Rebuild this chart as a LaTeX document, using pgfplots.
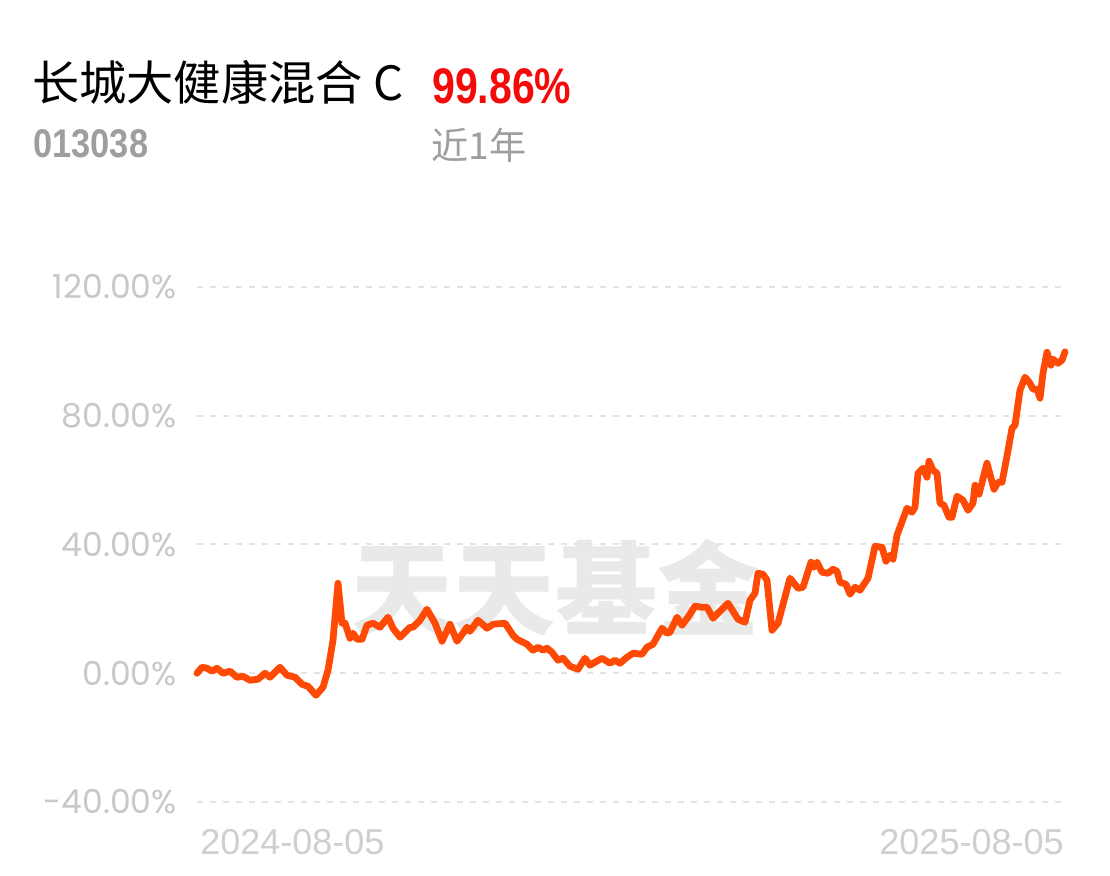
\documentclass[border=0pt]{standalone}
\usepackage{fontspec}
\usepackage{pgfplots}
\pgfplotsset{compat=1.18}
\setmainfont{Poppins}
\newfontfamily\cjk{Noto Sans CJK SC}
\newfontfamily\numfont{Liberation Sans}[FakeStretch=0.82]
\newfontfamily\codefont{Liberation Sans}[FakeStretch=0.86]
\newfontfamily\datefont{Liberation Sans}

\definecolor{lineor}{HTML}{FF4A05}
\definecolor{tickgray}{HTML}{C8C8C8}
\definecolor{dategray}{HTML}{CFCFCF}
\definecolor{gridgray}{HTML}{E3E3E3}
\definecolor{wm}{HTML}{E9E9E9}
\definecolor{codegray}{HTML}{9E9E9E}
\definecolor{redval}{HTML}{F50A0A}

\begin{document}
\begin{tikzpicture}
\begin{scope}[x=0.5pt,y=-0.5pt]
\fill[white] (0,0) rectangle (1110,876);
\node[anchor=base west, inner sep=0, font=\cjk\fontsize{23.6}{23.6}\selectfont] at (32,101) {长城大健康混合 C};
\node[anchor=base west, inner sep=0, text=redval, font=\numfont\bfseries\fontsize{25}{25}\selectfont] at (432,104) {99.86\%};
\node[anchor=base west, inner sep=0, text=codegray, font=\codefont\bfseries\fontsize{20}{20}\selectfont] at (33,158) {013038};
\node[anchor=base west, inner sep=0, text=codegray, font=\cjk\fontsize{18.6}{18.6}\selectfont] at (431,160) {近1年};
\node[anchor=base west, inner sep=0, text=dategray, font=\datefont\fontsize{18}{18}\selectfont] at (200,855) {2024-08-05};
\node[anchor=base east, inner sep=0, text=dategray, font=\datefont\fontsize{18}{18}\selectfont] at (1064,855) {2025-08-05};
\node[inner sep=0, text=wm, font=\cjk\bfseries\fontsize{51}{51}\selectfont] at (555,588) {天天基金};
\end{scope}
\begin{axis}[
    at={(98.5pt,-401pt)}, anchor=south west,
    scale only axis,
    width=434pt, height=257.5pt,
    xmin=197, xmax=1065,
    ymin=-40, ymax=120,
    axis line style={draw=none},
    xtick=\empty,
    ytick={-40,0,40,80,120},
    yticklabels={-40.00\%,0.00\%,40.00\%,80.00\%,120.00\%},
    yticklabel style={anchor=east, inner sep=0pt, xshift=-10pt, text=tickgray, font=\fontsize{16.5}{16.5}\selectfont},
    major tick length=0pt,
    ymajorgrids,
    grid style={gridgray, line width=1pt, dash pattern=on 3pt off 3.5pt},
    clip=false,
]
\addplot[lineor, line width=3.4pt, line join=round, line cap=round] table {
x y
197 0
202 1.86
207 1.55
212 0.62
217 1.55
223 0
230 0.62
237 -1.24
243 -0.93
250 -2.17
258 -1.86
265 0
270 -1.24
280 1.86
287 -0.62
295 -1.24
302 -3.42
308 -4.04
316 -6.84
323 -4.35
328 0.93
333 10.25
338 27.96
342 15.54
345 15.54
350 10.87
353 12.43
357 10.56
362 10.56
367 14.91
373 15.54
380 14.29
388 17.40
393 13.98
400 11.19
410 14.29
413 14.29
420 16.47
427 19.88
435 15.54
442 9.94
450 15.22
457 9.94
460 11.19
467 14.29
470 13.05
478 16.47
487 13.98
493 15.22
505 15.54
513 11.81
517 10.56
527 9.01
533 7.15
538 8.08
543 7.15
547 7.77
552 6.52
558 4.04
563 4.66
570 2.17
578 1.24
585 4.66
590 2.49
595 3.42
602 4.66
610 3.11
615 4.04
620 3.11
627 4.97
633 6.21
642 5.90
647 8.08
653 9.01
662 13.98
667 12.43
670 12.74
677 17.40
682 14.91
688 17.40
695 20.82
702 20.51
707 20.51
713 17.09
728 21.75
738 16.78
745 15.85
750 22.68
755 24.86
758 31.07
763 30.76
767 28.90
772 13.36
778 15.54
790 29.52
798 26.41
803 26.72
811 34.49
814 32.93
817 34.49
822 31.38
828 31.07
833 32.31
837 31.69
840 28.27
846 27.65
850 24.55
855 26.72
860 25.79
868 29.52
875 39.46
882 39.15
886 34.80
890 36.66
893 35.42
897 42.88
907 51.27
912 50.02
915 51.58
918 62.14
923 63.69
927 60.90
929 65.87
933 63.07
937 62.14
940 52.82
944 52.20
949 48.47
952 48.47
957 54.99
963 53.75
968 50.64
973 52.82
975 58.41
979 55.62
987 65.25
994 57.17
998 59.34
1002 59.34
1007 67.42
1012 76.12
1015 77.05
1020 87.93
1025 91.97
1030 90.10
1033 88.24
1037 88.24
1040 85.44
1043 93.21
1047 99.73
1051 95.70
1053 97.56
1058 96.32
1062 97.25
1065 99.86
};
\end{axis}
\end{tikzpicture}
\end{document}
